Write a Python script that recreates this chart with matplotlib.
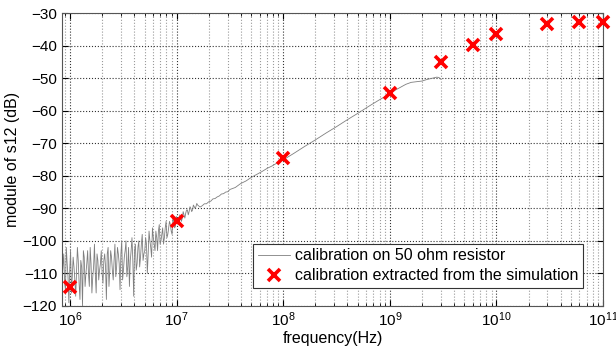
import matplotlib
matplotlib.use("Agg")
import matplotlib.pyplot as plt
import numpy as np
from matplotlib.ticker import LogLocator

plt.rcParams['font.family'] = ['Liberation Sans', 'DejaVu Sans']
plt.rcParams['mathtext.fontset'] = 'custom'
plt.rcParams['mathtext.rm'] = 'Liberation Sans'
plt.rcParams['mathtext.it'] = 'Liberation Sans:italic'

# measured curve: log10(frequency) and s12 magnitude (dB)
meas_logf = [5.925, 5.933, 5.941, 5.949, 5.957, 5.965, 5.973, 5.981, 5.989, 5.997,
             6.005, 6.013, 6.021, 6.029, 6.037, 6.045, 6.053, 6.061, 6.069, 6.077,
             6.085, 6.093, 6.101, 6.109, 6.117, 6.125, 6.133, 6.141, 6.149, 6.157,
             6.165, 6.173, 6.181, 6.189, 6.197, 6.205, 6.213, 6.221, 6.229, 6.237,
             6.245, 6.253, 6.261, 6.269, 6.277, 6.285, 6.293, 6.301, 6.309, 6.317,
             6.325, 6.333, 6.341, 6.349, 6.357, 6.365, 6.373, 6.381, 6.389, 6.397,
             6.405, 6.413, 6.421, 6.429, 6.437, 6.445, 6.453, 6.461, 6.469, 6.477,
             6.485, 6.493, 6.501, 6.509, 6.517, 6.525, 6.533, 6.541, 6.549, 6.557,
             6.565, 6.573, 6.581, 6.589, 6.597, 6.605, 6.613, 6.621, 6.629, 6.637,
             6.645, 6.653, 6.661, 6.669, 6.677, 6.685, 6.693, 6.701, 6.709, 6.717,
             6.725, 6.733, 6.741, 6.749, 6.757, 6.765, 6.773, 6.781, 6.789, 6.797,
             6.805, 6.813, 6.821, 6.829, 6.837, 6.845, 6.853, 6.861, 6.869, 6.877,
             6.885, 6.893, 6.901, 6.909, 6.917, 6.925, 6.933, 6.941, 6.949, 6.957,
             6.965, 6.973, 6.981, 6.989, 6.997, 7.005, 7.013, 7.021, 7.029, 7.037,
             7.045, 7.053, 7.061, 7.069, 7.077, 7.085, 7.093, 7.101, 7.109, 7.117,
             7.125, 7.133, 7.141, 7.149, 7.157, 7.165, 7.173, 7.181, 7.189, 7.197,
             7.22, 7.24, 7.26, 7.28, 7.30, 7.32, 7.34, 7.36, 7.38, 7.40,
             7.42, 7.44, 7.46, 7.48, 7.50, 7.55, 7.60,
             7.65, 7.70, 7.75, 7.80, 7.85, 7.90, 7.95, 8.00, 8.10, 8.20,
             8.30, 8.40, 8.50, 8.60, 8.70, 8.80, 8.90, 9.00, 9.05, 9.10,
             9.15, 9.20, 9.25, 9.30, 9.35, 9.40, 9.44, 9.46, 9.475]
meas_db = [-112, -108, -104, -113, -115, -102, -107, -111, -119, -109,
           -103, -116, -111, -105, -108, -112, -117, -109, -102, -106,
           -113, -118, -106, -108, -120, -103, -105, -114, -110, -107,
           -103, -110, -114, -102, -107, -116, -111, -108, -101, -110,
           -116, -104, -106, -112, -109, -107, -103, -110, -113, -106,
           -104, -108, -118, -104, -102, -114, -109, -103, -105, -109,
           -112, -106, -101, -111, -108, -102, -104, -107, -115, -104,
           -100, -112, -109, -105, -103, -100, -111, -108, -102, -114,
           -106, -103, -99, -106, -117, -103, -101, -109, -107, -102,
           -100, -108, -105, -101, -98, -106, -104, -103, -99, -101,
           -110, -104, -97, -100, -102, -105, -96, -99, -101, -103,
           -97, -99, -103, -97, -95, -101, -100, -98, -96, -101,
           -99, -96, -94, -99, -98, -96, -94, -95, -97, -98,
           -93, -94, -96, -95.5, -92.5, -93.5, -95, -94.5, -92, -92.5,
           -94, -93, -91, -92, -93, -91.5, -90.5, -90.5, -92, -91,
           -89.5, -90, -91, -90.5, -89, -89.5, -90, -89.5, -88.5, -89,
           -89.6, -89.2, -88.6, -88.6, -88.0, -87.8, -87.1, -87.0, -86.5, -86.2,
           -85.6, -85.5, -85.0, -84.9, -84.2, -83.6, -82.4,
           -81.6, -80.5, -79.6, -78.7, -77.7, -76.9, -75.9, -75.1, -73.1, -71.0,
           -69.0, -66.9, -64.9, -62.8, -60.8, -58.7, -56.7, -54.8, -53.7, -52.8,
           -51.9, -51.3, -51.1, -50.9, -50.4, -50.0, -49.7, -49.8, -50.3]

# simulation points
sim_freq = [1e6, 1e7, 1e8, 1e9, 3e9, 6e9, 1e10, 3e10, 6e10, 1e11]
sim_db = [-114.2, -94.0, -74.4, -54.6, -45.0, -39.8, -36.5, -33.4, -32.9, -32.9]

fig = plt.figure(figsize=(6.16, 3.52), dpi=100)
ax = fig.add_axes([0.1006, 0.1307, 0.8784, 0.8323])

meas_f = [10 ** v for v in meas_logf]
ax.plot(meas_f, meas_db, color='#7f7f7f', lw=0.6, label='calibration on 50 ohm resistor')
ax.plot(sim_freq, sim_db, linestyle='none', marker='x', color='#ff0000',
        markersize=9, markeredgewidth=2.6, label='calibration extracted from the simulation',
        clip_on=False, zorder=5)

ax.set_xscale('log')
ax.set_xlim(8.4e5, 1e11)
ax.set_ylim(-120, -30)
ax.set_yticks([-120, -110, -100, -90, -80, -70, -60, -50, -40, -30])
ax.xaxis.set_major_locator(LogLocator(base=10, numticks=20))
ax.xaxis.set_minor_locator(LogLocator(base=10, subs=np.arange(2, 10), numticks=50))

ax.grid(True, which='major', linestyle=':', color='#333333', linewidth=0.8)
ax.grid(True, which='minor', axis='x', linestyle=':', color='#9a9a9a', linewidth=0.8)
ax.tick_params(which='both', direction='in', top=True, right=True, labelsize=11)
ax.tick_params(which='major', length=4)
ax.tick_params(which='minor', length=2)
for s in ax.spines.values():
    s.set_color('#555555')
    s.set_linewidth(0.8)

ax.set_xlabel('frequency(Hz)', fontsize=11.5, labelpad=1)
ax.set_ylabel('module of s12 (dB)', fontsize=11.5, labelpad=2)

leg = ax.legend(loc='lower right', bbox_to_anchor=(0.963, 0.0614), borderaxespad=0,
                fontsize=11.5, frameon=True, fancybox=False, edgecolor='#333333',
                framealpha=1, handlelength=2.0, handletextpad=0.3, borderpad=0.3,
                labelspacing=0.3)
leg.get_frame().set_linewidth(0.8)

fig.savefig('out.png', dpi=100)
